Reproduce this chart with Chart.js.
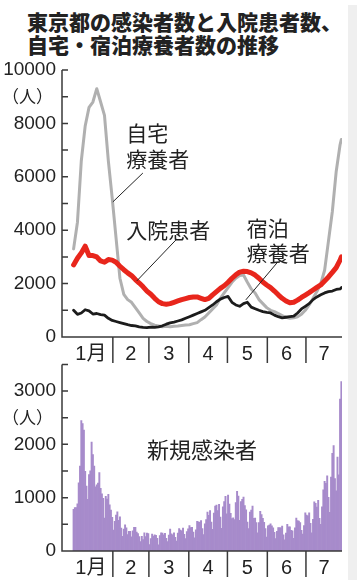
<!DOCTYPE html>
<html>
<head>
<meta charset="utf-8">
<script src="https://cdn.jsdelivr.net/npm/chart.js@4.4.1/dist/chart.umd.min.js"></script>
<style>
  html, body { margin: 0; padding: 0; background: #fff; }
  #wrap { position: relative; width: 357px; height: 585px; overflow: hidden; }
  #stripe { position: absolute; left: 348px; top: 5px; width: 9px; height: 575px; background: #efefef; }
  #title { position: absolute; left: 27px; top: 10px; font-family: "Noto Sans CJK JP", sans-serif;
           font-size: 21px; line-height: 23px; font-weight: 900; color: #222; white-space: nowrap; }
  canvas { position: absolute; left: 0; }
</style>
</head>
<body>
<div id="wrap">
  <div id="stripe"></div>
  <div id="title">東京都の感染者数と入院患者数、<br>自宅・宿泊療養者数の推移</div>
  <canvas id="topChart" width="357" height="370" style="top:0"></canvas>
  <canvas id="newChart" width="357" height="230" style="top:355px"></canvas>
</div>
<script>
// months (day index from Jan 1, 2021) and their axis labels
const monthStarts = [0, 31, 59, 90, 120, 151, 181];
const monthLabels = ['1月', '2', '3', '4', '5', '6', '7'];
const dayCount = 209; // Jan 1 - Jul 28

// line chart samples, every 3 days + last day
const lineDays = [0,3,6,9,12,15,18,21,24,27,30,33,36,39,42,45,48,51,54,57,60,63,66,69,72,75,78,81,84,87,
  90,93,96,99,102,105,108,111,114,117,120,123,126,129,132,135,138,141,144,147,150,153,156,159,162,165,168,171,174,177,
  180,183,186,189,192,195,198,201,204,207,208];

// 入院患者
const hospitalized = [2700,2950,3150,3400,3050,3050,3000,2850,2800,2900,
  2880,2800,2650,2520,2400,2300,2150,2020,1880,1720,
  1600,1450,1320,1250,1230,1250,1300,1350,1400,1440,
  1480,1500,1500,1450,1400,1450,1580,1700,1820,1920,
  2050,2200,2330,2430,2460,2450,2400,2320,2200,2060,
  1950,1850,1720,1580,1450,1350,1280,1300,1380,1480,
  1570,1660,1760,1860,1950,2100,2250,2420,2600,2880,
  3000];

// 宿泊療養者
const hotel = [1000,850,900,1020,980,860,880,840,820,700,
  620,580,540,500,460,430,420,380,360,350,
  370,360,380,420,480,530,560,600,640,700,
  760,820,880,940,1000,1100,1200,1320,1420,1480,
  1520,1300,1200,1150,1250,1300,1120,1060,1000,950,
  920,900,820,760,720,740,760,780,900,1050,
  1150,1250,1400,1500,1580,1650,1700,1720,1780,1800,
  1850];

// 自宅療養者
const atHome = [3300,4300,6600,7900,8600,8800,9300,8800,8300,6600,
  5200,3700,2200,1600,1400,1300,1100,900,700,580,
  500,440,410,380,400,380,400,410,430,450,
  460,500,540,650,750,900,1050,1200,1450,1650,
  1850,2050,2200,2300,2320,2050,1800,1650,1400,1250,
  1100,1000,950,880,800,740,700,720,760,850,
  1000,1200,1450,1700,2000,2500,3600,4700,6200,7200,
  7400];

// 新規感染者 (daily)
const newCases = [
  // Jan
  783,814,816,884,1278,1591,2447,2392,2268,1494,1219,970,1433,1502,2044,1809,1592,1204,1240,1274,1471,1175,1070,986,618,1026,973,1064,868,769,633,
  // Feb
  393,556,676,734,577,639,429,276,412,491,434,307,369,371,266,378,445,445,353,327,272,178,275,213,340,270,337,329,
  // Mar
  121,232,316,279,301,293,237,116,290,340,335,304,330,239,175,300,409,323,303,342,256,187,337,420,394,376,430,313,234,364,414,
  // Apr
  475,440,446,355,249,399,555,545,537,570,421,306,510,591,729,667,759,543,405,711,843,861,759,876,635,425,828,925,1027,698,
  // May
  1050,879,708,609,621,591,907,1121,1032,573,925,969,1010,854,772,542,419,732,766,843,614,618,535,340,534,743,684,614,539,419,260,
  // Jun
  471,487,508,472,436,351,235,369,440,439,435,467,304,209,337,501,452,453,388,376,236,435,619,570,562,534,386,317,476,714,
  // Jul
  673,660,716,518,342,593,920,896,822,950,614,502,830,1149,1308,1271,1410,1008,727,1387,1832,1979,1359,1128,1763,1429,2848,3177
];

// annotation anchors in data space (day, value)
const topNotes = [
  { text: '自宅', day: 41, value: 7640 },
  { text: '療養者', day: 41, value: 6670 },
  { text: '入院患者', day: 41, value: 4010 },
  { text: '宿泊', day: 134.6, value: 4080 },
  { text: '療養者', day: 134.6, value: 3150 }
];
const topLeaders = [
  [53.8, 6140, 30.5, 5060],
  [79.4, 3630, 49.1, 2100],
  [157.9, 2770, 133.8, 1390]
];
const newNotes = [{ text: '新規感染者', day: 57, value: 1895 }];

const NUM_FONT = '"Liberation Sans", "Noto Sans CJK JP"';
const JP_FONT = '"Noto Sans CJK JP"';

function decor(unitValue, notes, leaders, noteSize) {
  return {
    id: 'decor',
    afterDatasetsDraw(chart) {
      const { ctx, chartArea: a, scales: { x, y } } = chart;
      ctx.save();
      ctx.strokeStyle = '#3a3a3a';
      ctx.lineWidth = 1.5;
      ctx.beginPath();
      ctx.moveTo(a.left, a.top);
      ctx.lineTo(a.left, a.bottom);
      ctx.lineTo(a.right, a.bottom);
      y.ticks.forEach(t => {
        const py = y.getPixelForValue(t.value);
        ctx.moveTo(a.left, py);
        ctx.lineTo(a.left + 6, py);
      });
      monthStarts.slice(1).forEach(d => {
        const px = x.getPixelForValue(d - 0.5);
        ctx.moveTo(px, a.bottom);
        ctx.lineTo(px, a.bottom + 26);
      });
      ctx.stroke();

      ctx.fillStyle = '#222';
      ctx.textBaseline = 'middle';
      ctx.textAlign = 'center';
      ctx.font = '20px ' + NUM_FONT;
      monthLabels.forEach((m, i) => {
        const end = i + 1 < monthStarts.length ? monthStarts[i + 1] : dayCount;
        const mid = (monthStarts[i] + end) / 2 - 0.5;
        ctx.fillText(m, x.getPixelForValue(mid) - (i === 0 ? 2 : 0), a.bottom + 17);
      });

      ctx.textAlign = 'left';
      ctx.font = '17px ' + JP_FONT;
      ctx.fillText('（人）', 2, y.getPixelForValue(unitValue));

      ctx.font = noteSize + 'px ' + JP_FONT;
      notes.forEach(n => ctx.fillText(n.text, x.getPixelForValue(n.day), y.getPixelForValue(n.value)));

      ctx.strokeStyle = '#222';
      ctx.lineWidth = 1;
      ctx.beginPath();
      leaders.forEach(l => {
        ctx.moveTo(x.getPixelForValue(l[0]), y.getPixelForValue(l[1]));
        ctx.lineTo(x.getPixelForValue(l[2]), y.getPixelForValue(l[3]));
      });
      ctx.stroke();
      ctx.restore();
    }
  };
}

function yAxis(max, step, labelStep) {
  return {
    min: 0, max: max,
    grid: { display: false, drawTicks: false },
    border: { display: false },
    ticks: {
      stepSize: step, autoSkip: false, padding: 6, color: '#222',
      font: { family: 'Liberation Sans', size: 19 },
      callback: v => (v % labelStep === 0 ? v : '')
    },
    afterFit(s) { s.width = 62; s.paddingTop = 0; s.paddingBottom = 0; }
  };
}

const pts = vals => lineDays.map((d, i) => ({ x: d, y: vals[i] }));

new Chart(document.getElementById('topChart'), {
  type: 'line',
  data: {
    datasets: [
      { label: '入院患者', data: pts(hospitalized), borderColor: '#e8261c', borderWidth: 5 },
      { label: '宿泊療養者', data: pts(hotel), borderColor: '#1c1c1c', borderWidth: 2.8 },
      { label: '自宅療養者', data: pts(atHome), borderColor: '#b0b0b0', borderWidth: 3 }
    ]
  },
  options: {
    responsive: false,
    animation: false,
    layout: { padding: { top: 70, bottom: 33, left: 0, right: 15 } },
    elements: { point: { radius: 0 }, line: { tension: 0, borderJoinStyle: 'round', borderCapStyle: 'round' } },
    plugins: { legend: { display: false }, tooltip: { enabled: false } },
    scales: {
      x: { type: 'linear', display: false, min: -9, max: 208.5 },
      y: yAxis(10000, 1000, 2000)
    }
  },
  plugins: [decor(9000, topNotes, topLeaders, 21)]
});

new Chart(document.getElementById('newChart'), {
  type: 'bar',
  data: {
    datasets: [{
      label: '新規感染者',
      data: newCases.map((v, i) => ({ x: i, y: v })),
      backgroundColor: '#a78bcb',
      borderWidth: 0,
      barPercentage: 1,
      categoryPercentage: 1
    }]
  },
  options: {
    responsive: false,
    animation: false,
    layout: { padding: { top: 9.4, bottom: 34, left: 0, right: 15 } },
    plugins: { legend: { display: false }, tooltip: { enabled: false } },
    scales: {
      x: { type: 'linear', display: false, min: -9, max: 208.5, offset: false },
      y: yAxis(3500, 500, 1000)
    }
  },
  plugins: [decor(2500, newNotes, [], 22)]
});
</script>
</body>
</html>
